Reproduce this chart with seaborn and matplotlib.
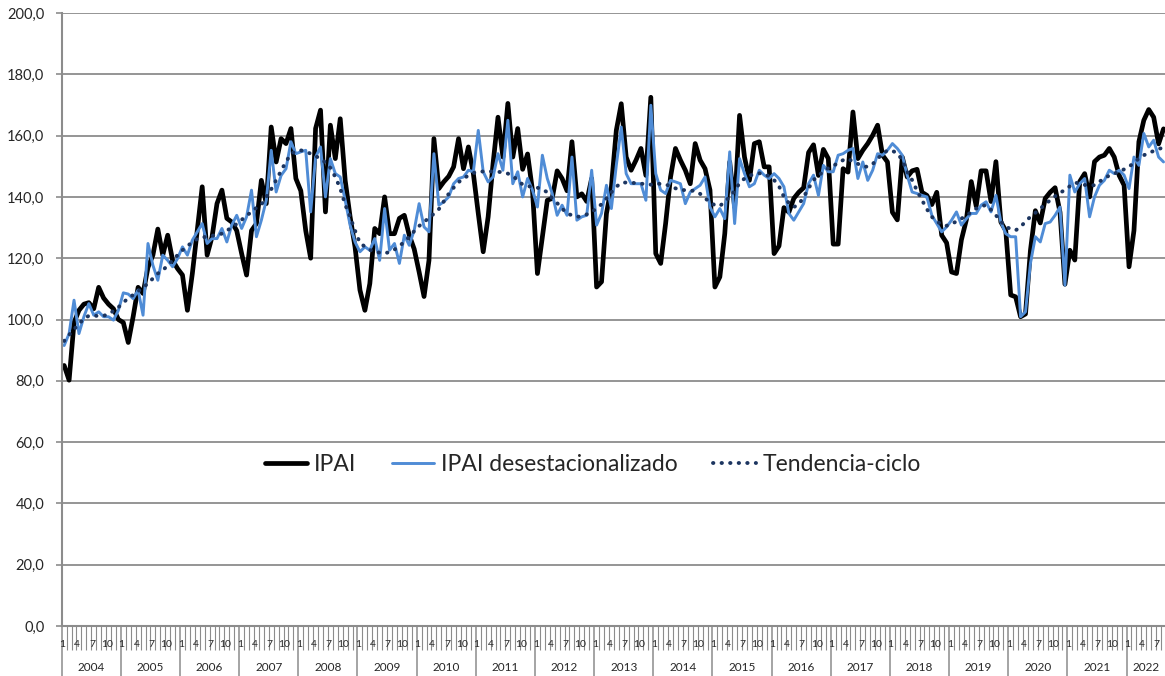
import matplotlib
matplotlib.use('Agg')
import matplotlib.pyplot as plt
import matplotlib.transforms as mtransforms
import numpy as np
import seaborn as sns

# monthly series, Jan 2004 - Aug 2022
years = [str(y) for y in range(2004, 2023)]
month_labels = ['1', '', '', '4', '', '', '7', '', '', '10', '', '']

ipai = [
    85.0, 80.2, 99.0, 103.0, 105.0, 105.5, 103.5, 110.5, 107.0, 105.0, 103.5, 100.0,
    99.0, 92.5, 101.0, 110.5, 108.5, 117.0, 121.0, 129.5, 121.0, 127.5, 119.3, 116.6,
    114.5, 103.0, 115.0, 129.0, 143.3, 121.0, 127.0, 137.8, 142.2, 133.0, 131.8, 129.0,
    121.5, 114.5, 129.0, 131.3, 145.4, 137.8, 162.8, 151.4, 159.0, 157.4, 162.3, 146.0,
    142.0, 129.0, 120.0, 162.3, 168.3, 135.1, 163.4, 152.5, 165.5, 145.4, 133.5, 123.7,
    109.6, 103.0, 111.7, 129.7, 128.0, 140.0, 128.0, 128.0, 133.0, 134.0, 127.5, 123.0,
    115.5, 107.5, 119.3, 159.0, 142.7, 144.9, 146.7, 149.8, 159.0, 149.2, 156.3, 147.6,
    134.6, 122.1, 133.5, 150.9, 166.0, 153.0, 170.5, 153.0, 162.3, 149.0, 154.0, 142.0,
    115.0, 127.0, 138.9, 139.5, 148.5, 146.0, 142.0, 158.0, 140.0, 141.0, 138.5, 146.0,
    110.6, 112.3, 134.6, 143.3, 161.7, 170.4, 153.0, 148.7, 152.0, 155.8, 147.0, 172.5,
    121.5, 118.3, 131.3, 146.5, 155.8, 152.0, 148.7, 144.3, 157.4, 152.0, 149.2, 142.2,
    110.6, 113.9, 128.0, 151.4, 136.7, 166.6, 153.0, 145.4, 157.4, 158.0, 149.8, 149.8,
    121.5, 124.0, 136.5, 135.0, 139.5, 141.5, 143.0, 154.5, 157.0, 147.0, 155.5, 152.5,
    124.6, 124.6, 149.2, 148.1, 167.7, 152.5, 155.2, 157.4, 160.1, 163.4, 153.6, 151.4,
    135.0, 132.5, 153.0, 146.5, 148.5, 149.0, 141.5, 140.5, 137.5, 141.5, 127.5, 125.0,
    115.5, 115.0, 126.0, 132.5, 145.0, 137.0, 148.5, 148.5, 138.5, 151.5, 131.8, 129.0,
    108.0, 107.4, 100.9, 101.8, 122.5, 135.5, 131.5, 139.5, 141.5, 143.0, 135.0, 111.5,
    122.6, 119.4, 145.0, 147.6, 140.0, 151.5, 153.0, 153.6, 155.8, 153.0, 147.0, 143.8,
    117.2, 129.0, 158.0, 165.0, 168.5, 166.0, 157.3, 162.2,
]

ipai_desest = [
    91.5, 95.4, 106.3, 95.4, 100.9, 105.2, 101.4, 102.5, 100.9, 100.9, 99.8, 103.0,
    108.7, 108.3, 106.8, 109.6, 101.4, 124.8, 117.7, 112.8, 121.0, 119.3, 117.2, 119.9,
    123.7, 121.0, 125.9, 128.6, 131.3, 124.8, 126.4, 126.4, 129.7, 125.3, 130.8, 134.0,
    129.7, 133.5, 142.2, 127.0, 132.4, 138.9, 155.2, 141.6, 147.0, 149.2, 158.0, 154.1,
    154.7, 155.2, 135.1, 153.0, 156.3, 140.0, 152.5, 147.6, 146.5, 138.9, 130.8, 125.3,
    122.1, 123.7, 122.6, 126.4, 119.3, 136.2, 122.6, 124.8, 118.3, 127.5, 124.2, 129.1,
    137.8, 130.2, 128.6, 154.1, 137.3, 138.4, 140.0, 144.3, 146.0, 146.5, 148.7, 148.2,
    161.7, 148.2, 144.9, 146.5, 154.1, 148.7, 165.0, 144.3, 148.2, 140.0, 146.0, 142.2,
    136.7, 153.6, 146.0, 141.1, 134.0, 137.3, 134.0, 153.0, 132.4, 133.5, 134.0, 148.7,
    130.8, 134.6, 143.8, 136.2, 150.3, 162.8, 147.6, 144.3, 144.3, 144.3, 138.9, 169.9,
    147.6, 142.2, 141.1, 145.4, 144.9, 144.3, 137.8, 141.6, 142.7, 143.8, 146.5, 136.7,
    133.5, 136.2, 132.9, 154.7, 131.3, 152.5, 147.6, 143.3, 144.3, 148.7, 147.1, 146.0,
    147.6, 146.0, 143.3, 134.6, 132.4, 135.1, 137.8, 144.3, 147.1, 140.5, 150.3, 148.2,
    148.2, 153.6, 154.1, 155.2, 155.8, 146.0, 151.4, 145.4, 148.7, 154.1, 153.6, 155.2,
    157.4, 155.8, 153.6, 147.1, 141.6, 141.1, 140.5, 140.0, 134.0, 131.3, 128.6, 130.2,
    132.4, 135.1, 130.8, 132.9, 134.6, 134.6, 137.3, 138.4, 135.1, 140.5, 131.8, 128.0,
    127.0, 127.0, 100.9, 102.5, 118.3, 127.0, 125.3, 131.3, 131.8, 134.0, 136.7, 111.2,
    147.1, 141.6, 144.3, 146.0, 133.5, 140.0, 143.8, 145.4, 148.7, 147.6, 148.7, 147.1,
    142.7, 153.0, 150.3, 160.7, 156.3, 158.5, 153.0, 151.4,
]

tendencia = [
    93.0, 95.0, 96.8, 98.5, 100.3, 101.2, 101.3, 101.1, 101.2, 101.8, 102.8, 104.0,
    105.5, 107.0, 108.0, 109.2, 110.5, 111.7, 113.4, 115.0, 116.0, 117.7, 119.3, 121.0,
    122.6, 124.0, 125.2, 126.3, 126.8, 127.0, 127.3, 127.7, 128.0, 129.0, 130.0, 131.2,
    132.5, 134.0, 135.0, 136.5, 137.5, 140.0, 142.5, 145.5, 148.5, 151.5, 154.0, 155.0,
    155.2, 154.8, 154.1, 153.3, 152.5, 151.2, 149.5, 146.5, 142.8, 137.5, 133.5, 129.0,
    124.9, 123.8, 122.7, 122.1, 121.8, 121.6, 122.0, 122.8, 124.0, 125.3, 127.0, 128.8,
    130.5, 131.8, 133.2, 134.5, 136.0, 138.5, 141.0, 143.0, 144.8, 146.0, 147.0, 147.8,
    148.2, 148.3, 148.3, 148.3, 148.2, 148.0, 147.6, 146.8, 145.5, 144.0, 143.5, 143.3,
    143.0, 142.5, 141.5, 139.5, 138.0, 136.2, 134.6, 134.0, 133.5, 133.7, 134.3, 135.0,
    136.3, 137.6, 139.5, 141.5, 143.3, 144.6, 144.7, 144.6, 144.5, 144.3, 144.2, 144.0,
    144.2, 144.3, 144.0, 143.6, 142.8, 142.3, 142.2, 142.1, 141.9, 141.0, 139.6, 138.2,
    137.3, 137.0, 138.5, 140.0, 142.0, 144.5, 146.0, 147.0, 147.3, 147.7, 147.5, 146.7,
    145.5, 143.5, 140.0, 138.0, 136.7, 137.5, 140.0, 142.8, 145.5, 147.0, 148.2, 149.4,
    150.2, 151.0, 152.0, 152.5, 151.5, 150.8, 150.0, 149.8, 150.7, 152.5, 154.0, 155.2,
    155.0, 154.3, 152.0, 148.2, 145.5, 142.0, 139.0, 136.0, 133.5, 132.0, 131.0, 130.6,
    131.2, 132.0, 132.9, 134.0, 135.0, 136.2, 137.0, 137.3, 135.8, 134.0, 132.0, 130.3,
    129.5, 129.1, 130.2, 132.0, 133.5, 134.8, 136.2, 137.6, 138.9, 140.2, 141.3, 142.3,
    143.5, 144.6, 144.5, 143.9, 143.8, 143.8, 145.0, 146.0, 147.0, 147.6, 148.2, 149.0,
    149.8, 151.2, 152.5, 153.6, 154.3, 155.0, 155.7, 156.0,
]

n = len(ipai)
mes = np.arange(n)

sns.set_style('white')
plt.rcParams['font.family'] = ['Lato', 'DejaVu Sans']

gris = '#8c8c8c'
fig = plt.figure(figsize=(11.65, 6.76), dpi=100)
ax = fig.add_axes([61.7 / 1165, 50 / 676, 1104.3 / 1165, 613 / 676])

sns.lineplot(x=mes, y=ipai, ax=ax, color='black', linewidth=3.4,
             solid_joinstyle='round', label='IPAI')
sns.lineplot(x=mes, y=ipai_desest, ax=ax, color='#4f8cd6', linewidth=2.1,
             solid_joinstyle='round', label='IPAI desestacionalizado')
sns.lineplot(x=mes, y=tendencia, ax=ax, color='#1c3560', linewidth=2.8,
             linestyle=(0, (0.1, 2.1)), dash_capstyle='round',
             label='Tendencia-ciclo')

ax.set_xlim(-0.5, n - 0.5)
ax.set_ylim(0, 200)
ax.set_yticks(range(0, 201, 20))
ax.set_yticklabels([f'{v:.1f}'.replace('.', ',') for v in range(0, 201, 20)],
                   fontsize=10.5)
ax.yaxis.grid(True, color=gris, linewidth=1.3)
ax.xaxis.grid(False)
ax.set_xlabel('')
ax.set_ylabel('')

for s in ['top', 'right']:
    ax.spines[s].set_visible(False)
for s in ['left', 'bottom']:
    ax.spines[s].set_color(gris)
    ax.spines[s].set_linewidth(1.5)

ax.tick_params(axis='y', length=4.5, width=1.2, color=gris, pad=8, left=True)

# category axis: month ticks and year separators
ax.set_xticks(np.arange(-0.5, n, 12))
ax.set_xticks(np.arange(-0.5, n + 0.5, 1), minor=True)
ax.tick_params(axis='x', which='major', length=36, width=1.1, color=gris,
               labelbottom=False, bottom=True)
ax.tick_params(axis='x', which='minor', length=17, width=0.8, color=gris,
               labelbottom=False, bottom=True)

trans = mtransforms.blended_transform_factory(ax.transData, ax.transAxes)
for i in range(n):
    lab = month_labels[i % 12]
    if lab:
        ax.text(i - 0.35, -0.03, lab, transform=trans, ha='center',
                va='center', fontsize=7.5)
for k, yr in enumerate(years):
    x0 = 12 * k - 0.5
    x1 = min(12 * k + 11.5, n - 0.5)
    ax.text((x0 + x1) / 2, -0.068, yr, transform=trans, ha='center',
            va='center', fontsize=8.5)

ax.legend(loc='center', bbox_to_anchor=(0.481, 0.263), ncol=3, frameon=False,
          fontsize=16.5, handlelength=1.85, handletextpad=0.3, columnspacing=1.55)

fig.savefig('out.png', dpi=100)
